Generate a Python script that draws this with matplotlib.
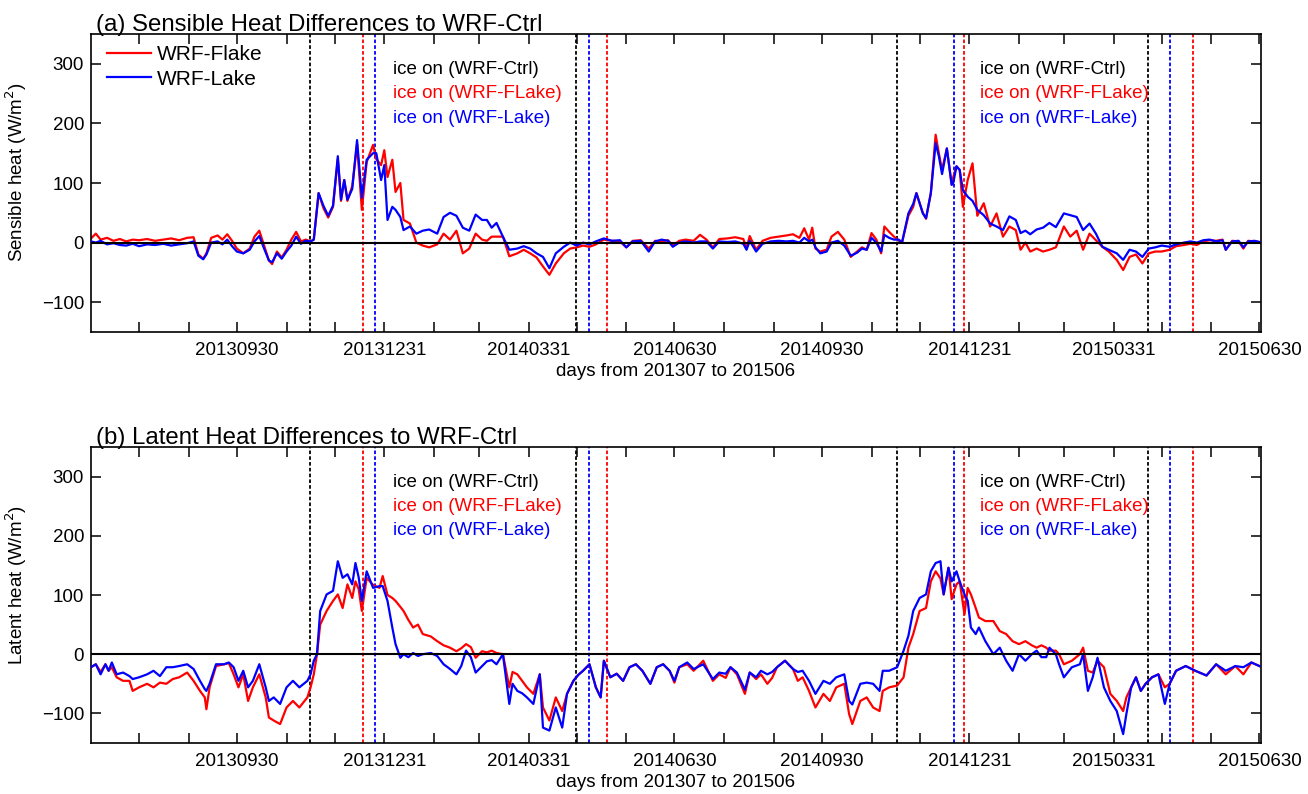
import numpy as np
import pandas as pd
import matplotlib
matplotlib.use("Agg")
import matplotlib.pyplot as plt

plt.rcParams['font.family'] = ['Liberation Sans', 'DejaVu Sans']

# ---------------- data ----------------
days_sh = [0,3,6,10,14,18,22,26,30,35,
           40,45,50,55,60,64,67,70,72,75,
           79,82,85,88,91,95,99,102,105,108,
           111,113,116,119,122,125,128,131,134,137,
           139,142,145,148,151,154,156,158,160,163,
           166,169,172,176,178,181,183,185,188,190,
           193,195,199,203,207,211,216,220,224,228,
           232,236,240,244,247,250,253,257,261,266,
           270,274,278,282,286,290,295,299,303,307,
           311,315,320,325,330,334,338,343,348,352,
           356,360,363,367,371,376,380,384,388,392,
           397,402,407,409,411,415,419,424,429,434,
           438,442,445,448,450,452,455,459,462,466,
           470,474,478,481,484,487,490,493,495,498,
           501,504,506,510,513,515,519,521,524,527,
           529,531,534,537,538,540,542,544,547,550,
           553,557,561,565,569,573,577,580,583,586,
           590,594,598,602,607,611,615,619,623,627,
           631,635,640,644,648,652,656,660,664,668,
           673,677,682,686,690,694,698,702,706,708,
           712,716,719,722,726,729]

flake_sh = [7,15,5,8,3,6,2,5,4,6,
            3,5,7,4,8,9,-20,-27,-18,8,
            12,5,14,3,-10,-18,-10,10,20,-5,
            -30,-36,-15,-25,-12,5,18,2,5,2,
            5,83,58,42,60,140,70,105,70,95,
            165,55,135,164,140,130,155,110,139,85,
            100,38,32,0,-5,-8,-3,15,5,20,
            -18,-10,15,5,3,10,10,10,-23,-18,
            -12,-18,-25,-40,-54,-35,-18,-10,-8,-5,
            -7,-3,5,3,2,-8,3,4,-10,3,
            2,4,-5,3,5,3,13,5,-8,6,
            7,9,6,-10,11,-12,3,8,10,12,
            14,8,24,5,25,-10,-15,-12,10,18,
            5,-24,-15,-8,-12,16,5,-18,27,18,
            10,3,0,45,60,83,50,40,83,181,
            150,122,158,97,110,128,122,60,105,133,
            45,66,27,49,10,27,21,-12,0,-15,
            -10,-15,-12,-8,27,10,20,-12,15,4,
            -7,-15,-29,-46,-24,-20,-35,-18,-15,-15,
            -12,-6,-4,-2,-4,2,4,3,5,-12,
            3,2,-10,3,2,1]

lake_sh = [2,0,3,-3,-1,-4,-5,-2,-6,-3,
           -4,-2,-5,-3,-1,2,-22,-28,-20,0,
           2,-3,5,-6,-15,-18,-12,2,11,-10,
           -30,-33,-18,-27,-15,-5,10,-2,3,2,
           5,83,62,45,62,145,72,105,72,90,
           172,75,139,150,150,105,130,38,60,55,
           43,21,27,15,20,22,15,43,50,45,
           25,20,47,38,38,25,33,10,-12,-10,
           -6,-10,-18,-24,-43,-18,-7,0,-5,0,
           -3,2,7,3,4,-8,2,3,-15,2,
           5,3,-7,0,2,0,2,2,-10,2,
           1,2,-2,-12,3,-15,-2,2,3,2,
           3,0,8,2,5,-8,-18,-15,0,3,
           -5,-22,-17,-10,-12,8,0,-15,13,8,
           5,5,0,49,65,83,49,41,83,167,
           145,115,158,97,100,128,122,88,77,70,
           55,46,32,27,21,44,38,16,20,14,
           22,25,33,26,49,46,43,21,32,15,
           -7,-12,-18,-29,-12,-15,-24,-10,-8,-5,
           -7,-3,0,2,0,4,5,2,4,-12,
           2,3,-8,2,3,1]

days_lh = [0,3,6,9,11,13,16,20,24,26,
           30,35,39,43,47,51,55,60,64,68,
           71,72,74,78,83,86,89,92,95,98,
           101,105,109,111,114,118,122,126,130,135,
           137,139,141,143,147,151,154,157,160,163,
           165,167,169,172,176,180,182,185,188,190,
           193,195,198,201,204,207,212,216,220,224,
           228,231,234,237,240,244,247,250,253,257,
           261,263,266,269,272,276,280,282,286,290,
           294,297,301,304,307,311,315,318,320,324,
           328,332,336,340,344,349,353,357,361,364,
           367,372,376,382,388,392,396,399,403,408,
           411,415,418,422,425,428,433,438,441,444,
           448,452,457,461,465,470,473,475,480,484,
           488,492,494,498,503,507,510,513,517,521,
           524,527,530,532,535,537,540,542,545,547,
           549,552,554,558,563,567,571,575,579,583,
           587,590,593,596,598,602,604,607,612,617,
           619,622,625,628,632,636,640,644,646,649,
           652,655,658,662,666,670,673,677,683,689,
           696,702,708,714,719,724,729]

flake_lh = [-22,-17,-30,-17,-28,-22,-39,-45,-45,-62,
            -56,-50,-56,-48,-50,-42,-39,-31,-45,-62,
            -73,-93,-56,-20,-17,-15,-34,-56,-34,-79,
            -56,-34,-73,-107,-112,-118,-90,-79,-90,-73,
            -56,-34,0,50,73,90,101,78,118,95,
            123,110,73,129,117,112,132,100,95,90,
            80,73,58,45,50,34,30,22,15,11,
            5,10,17,12,-6,5,3,6,2,0,
            -56,-30,-34,-45,-56,-67,-34,-90,-112,-73,
            -96,-67,-45,-35,-28,-17,-56,-73,-11,-39,
            -33,-45,-22,-17,-28,-50,-22,-17,-28,-48,
            -22,-17,-28,-11,-45,-34,-40,-22,-34,-67,
            -31,-42,-34,-50,-40,-22,-11,-25,-45,-39,
            -62,-90,-67,-79,-56,-50,-101,-118,-79,-73,
            -90,-96,-62,-56,-53,-39,11,34,73,78,
            123,140,128,101,146,93,118,123,67,112,
            101,78,62,56,56,39,34,22,17,22,
            15,11,15,11,6,6,0,-17,-11,0,
            11,-28,-31,-11,-22,-67,-79,-96,-73,-56,
            -39,-62,-50,-39,-34,-56,-50,-28,-20,-28,
            -36,-17,-34,-20,-34,-14,-20]

lake_lh = [-22,-17,-34,-17,-28,-14,-34,-31,-37,-42,
           -39,-34,-28,-37,-22,-22,-20,-17,-25,-45,
           -59,-62,-50,-17,-17,-14,-22,-45,-28,-56,
           -45,-17,-56,-79,-73,-84,-56,-45,-56,-45,
           -34,-11,0,73,101,107,157,129,135,118,
           154,130,90,140,112,115,115,90,45,17,
           -6,0,-5,2,-3,0,2,-3,-17,-25,
           -34,-20,6,-5,-31,-20,-12,-10,-17,0,
           -84,-50,-62,-66,-73,-84,-34,-124,-129,-90,
           -124,-67,-45,-35,-28,-17,-56,-73,-11,-39,
           -33,-45,-22,-17,-28,-50,-22,-17,-28,-45,
           -22,-14,-25,-17,-42,-31,-33,-22,-31,-60,
           -31,-39,-28,-34,-30,-22,-11,-25,-30,-28,
           -45,-67,-45,-50,-39,-34,-79,-85,-50,-48,
           -50,-62,-28,-28,-22,6,31,73,95,101,
           140,154,157,101,146,123,140,123,101,90,
           45,34,45,22,0,11,-11,-28,0,-11,
           0,6,-5,-5,11,0,-17,-39,-22,-17,
           0,-62,-39,-6,-56,-79,-96,-135,-101,-56,
           -39,-62,-50,-39,-34,-84,-50,-28,-20,-28,
           -36,-17,-28,-20,-22,-14,-20]

ice_ctrl = [136.6, 302.3, 502.6, 659.5]
ice_flake = [169.5, 322.0, 544.6, 687.7]
ice_lake = [177.3, 310.9, 538.4, 673.5]

start = pd.Timestamp('2013-07-01')
month_ends = pd.date_range('2013-07-31', '2015-06-30', freq='ME')
tick_days = [(d - start).days for d in month_ends]
label_dates = ['20130930', '20131231', '20140331', '20140630',
               '20140930', '20141231', '20150331', '20150630']

titles = ['(a) Sensible Heat Differences to WRF-Ctrl',
          '(b) Latent Heat Differences to WRF-Ctrl']
ylabels = ['Sensible heat (W/m$^2$)', 'Latent heat (W/m$^2$)']
xlabel = 'days from 201307 to 201506'
ann_texts = ['ice on (WRF-Ctrl)', 'ice on (WRF-FLake)', 'ice on (WRF-Lake)']
ann_colors = ['black', '#ff0000', '#0000ff']

# ---------------- figure ----------------
W, H = 1308, 794
fig = plt.figure(figsize=(W / 100, H / 100), dpi=100)

def px_axes(l, t, r, b):
    return fig.add_axes([l / W, 1 - b / H, (r - l) / W, (b - t) / H])

axs = [px_axes(91, 34, 1261, 332), px_axes(91, 447, 1261, 743)]
series = [(days_sh, flake_sh, lake_sh), (days_lh, flake_lh, lake_lh)]

FS = 13.5
for i, ax in enumerate(axs):
    d, fl, lk = series[i]
    for x in ice_ctrl:
        ax.axvline(x, color='black', lw=1.3, ls=(0, (2, 1.2)), zorder=1)
    for x in ice_flake:
        ax.axvline(x, color='#ff0000', lw=1.3, ls=(0, (2, 1.2)), zorder=1)
    for x in ice_lake:
        ax.axvline(x, color='#0000ff', lw=1.3, ls=(0, (2, 1.2)), zorder=1)
    l1, = ax.plot(d, fl, color='#ff0000', lw=1.6, zorder=2, label='WRF-Flake')
    l2, = ax.plot(d, lk, color='#0000ff', lw=1.6, zorder=3, label='WRF-Lake')
    ax.axhline(0, color='black', lw=1.5, zorder=4)

    ax.set_xlim(0, 730)
    ax.set_ylim(-150, 350)
    ax.set_yticks([-100, 0, 100, 200, 300])
    ax.set_xticks(tick_days)
    lbls = []
    for td, me in zip(tick_days, month_ends):
        s = me.strftime('%Y%m%d')
        lbls.append(s if s in label_dates else '')
    ax.set_xticklabels(lbls)
    ax.tick_params(direction='in', length=7, width=1.1, top=True, right=True,
                   labelsize=FS, pad=7)
    ax.tick_params(axis='y', pad=5)
    for sp in ax.spines.values():
        sp.set_linewidth(1.2)
    ax.set_title(titles[i], loc='left', fontsize=17.3, pad=2, x=0.004)
    ax.set_ylabel(ylabels[i], fontsize=FS, labelpad=8)
    ax.yaxis.set_label_coords(-0.053, 0.535)
    ax.set_xlabel(xlabel, fontsize=FS, labelpad=3)

    for gx in [188.4, 554.6]:
        for k, (t, c) in enumerate(zip(ann_texts, ann_colors)):
            ax.text(gx, 290 - 40.5 * k, t, color=c, fontsize=13.5,
                    va='center', ha='left', zorder=5)
    if i == 0:
        ax.legend(handles=[l1, l2], loc='upper left',
                  bbox_to_anchor=(0.0137, 0.962), frameon=False, borderpad=0,
                  borderaxespad=0, handlelength=2.1, handletextpad=0.3,
                  labelspacing=0.25, fontsize=15)

fig.savefig('out.png', dpi=100)
